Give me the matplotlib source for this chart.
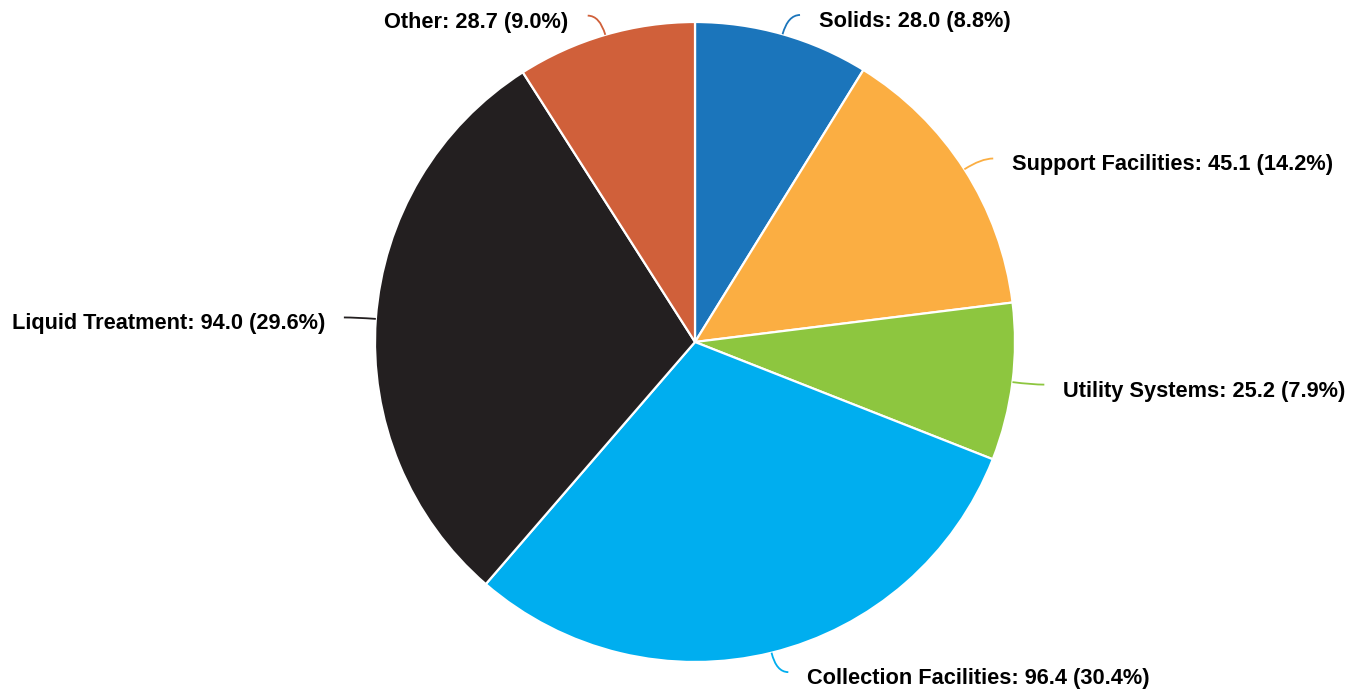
import numpy as np
import matplotlib
matplotlib.use('Agg')
import matplotlib.pyplot as plt
from matplotlib.path import Path
from matplotlib.patches import PathPatch

categories = ['Solids', 'Support Facilities', 'Utility Systems',
              'Collection Facilities', 'Liquid Treatment', 'Other']
values = [28.0, 45.1, 25.2, 96.4, 94.0, 28.7]
colors = ['#1b75bb', '#fbae42', '#8dc63f', '#00aeef', '#231f20', '#d0603a']

plt.rcParams['font.family'] = ['Liberation Sans', 'DejaVu Sans']

W, H = 1362, 694
fig = plt.figure(figsize=(W / 100, H / 100), dpi=100)
ax = fig.add_axes([0, 0, 1, 1])

cx, cy, r = 695, H - 342, 320
ax.pie(values, colors=colors, startangle=90, counterclock=False,
       center=(cx, cy), radius=r,
       wedgeprops=dict(edgecolor='white', linewidth=1.6))
ax.set_xlim(0, W)
ax.set_ylim(0, H)
ax.set_aspect('equal')
ax.axis('off')

total = sum(values)
cum = np.cumsum([0] + values)
for i, (name, v) in enumerate(zip(categories, values)):
    mid = np.radians((cum[i] + v / 2) / total * 360)
    d = np.array([np.sin(mid), np.cos(mid)])
    start = np.array([cx, cy]) + r * d
    corner = start + 20 * d
    side = 1 if d[0] >= 0 else -1
    end = corner + np.array([12 * side, 0])
    path = Path([start, corner, end], [Path.MOVETO, Path.CURVE3, Path.CURVE3])
    ax.add_patch(PathPatch(path, fc='none', ec=colors[i], lw=1.3))
    pct = v / total * 100
    ax.text(end[0] + 19 * side, end[1] - 6.5, f'{name}: {v:.1f} ({pct:.1f}%)',
            ha='left' if side > 0 else 'right', va='center',
            fontsize=15.7, fontweight='bold', color='black')

fig.savefig('out.png', dpi=100, facecolor='white')
